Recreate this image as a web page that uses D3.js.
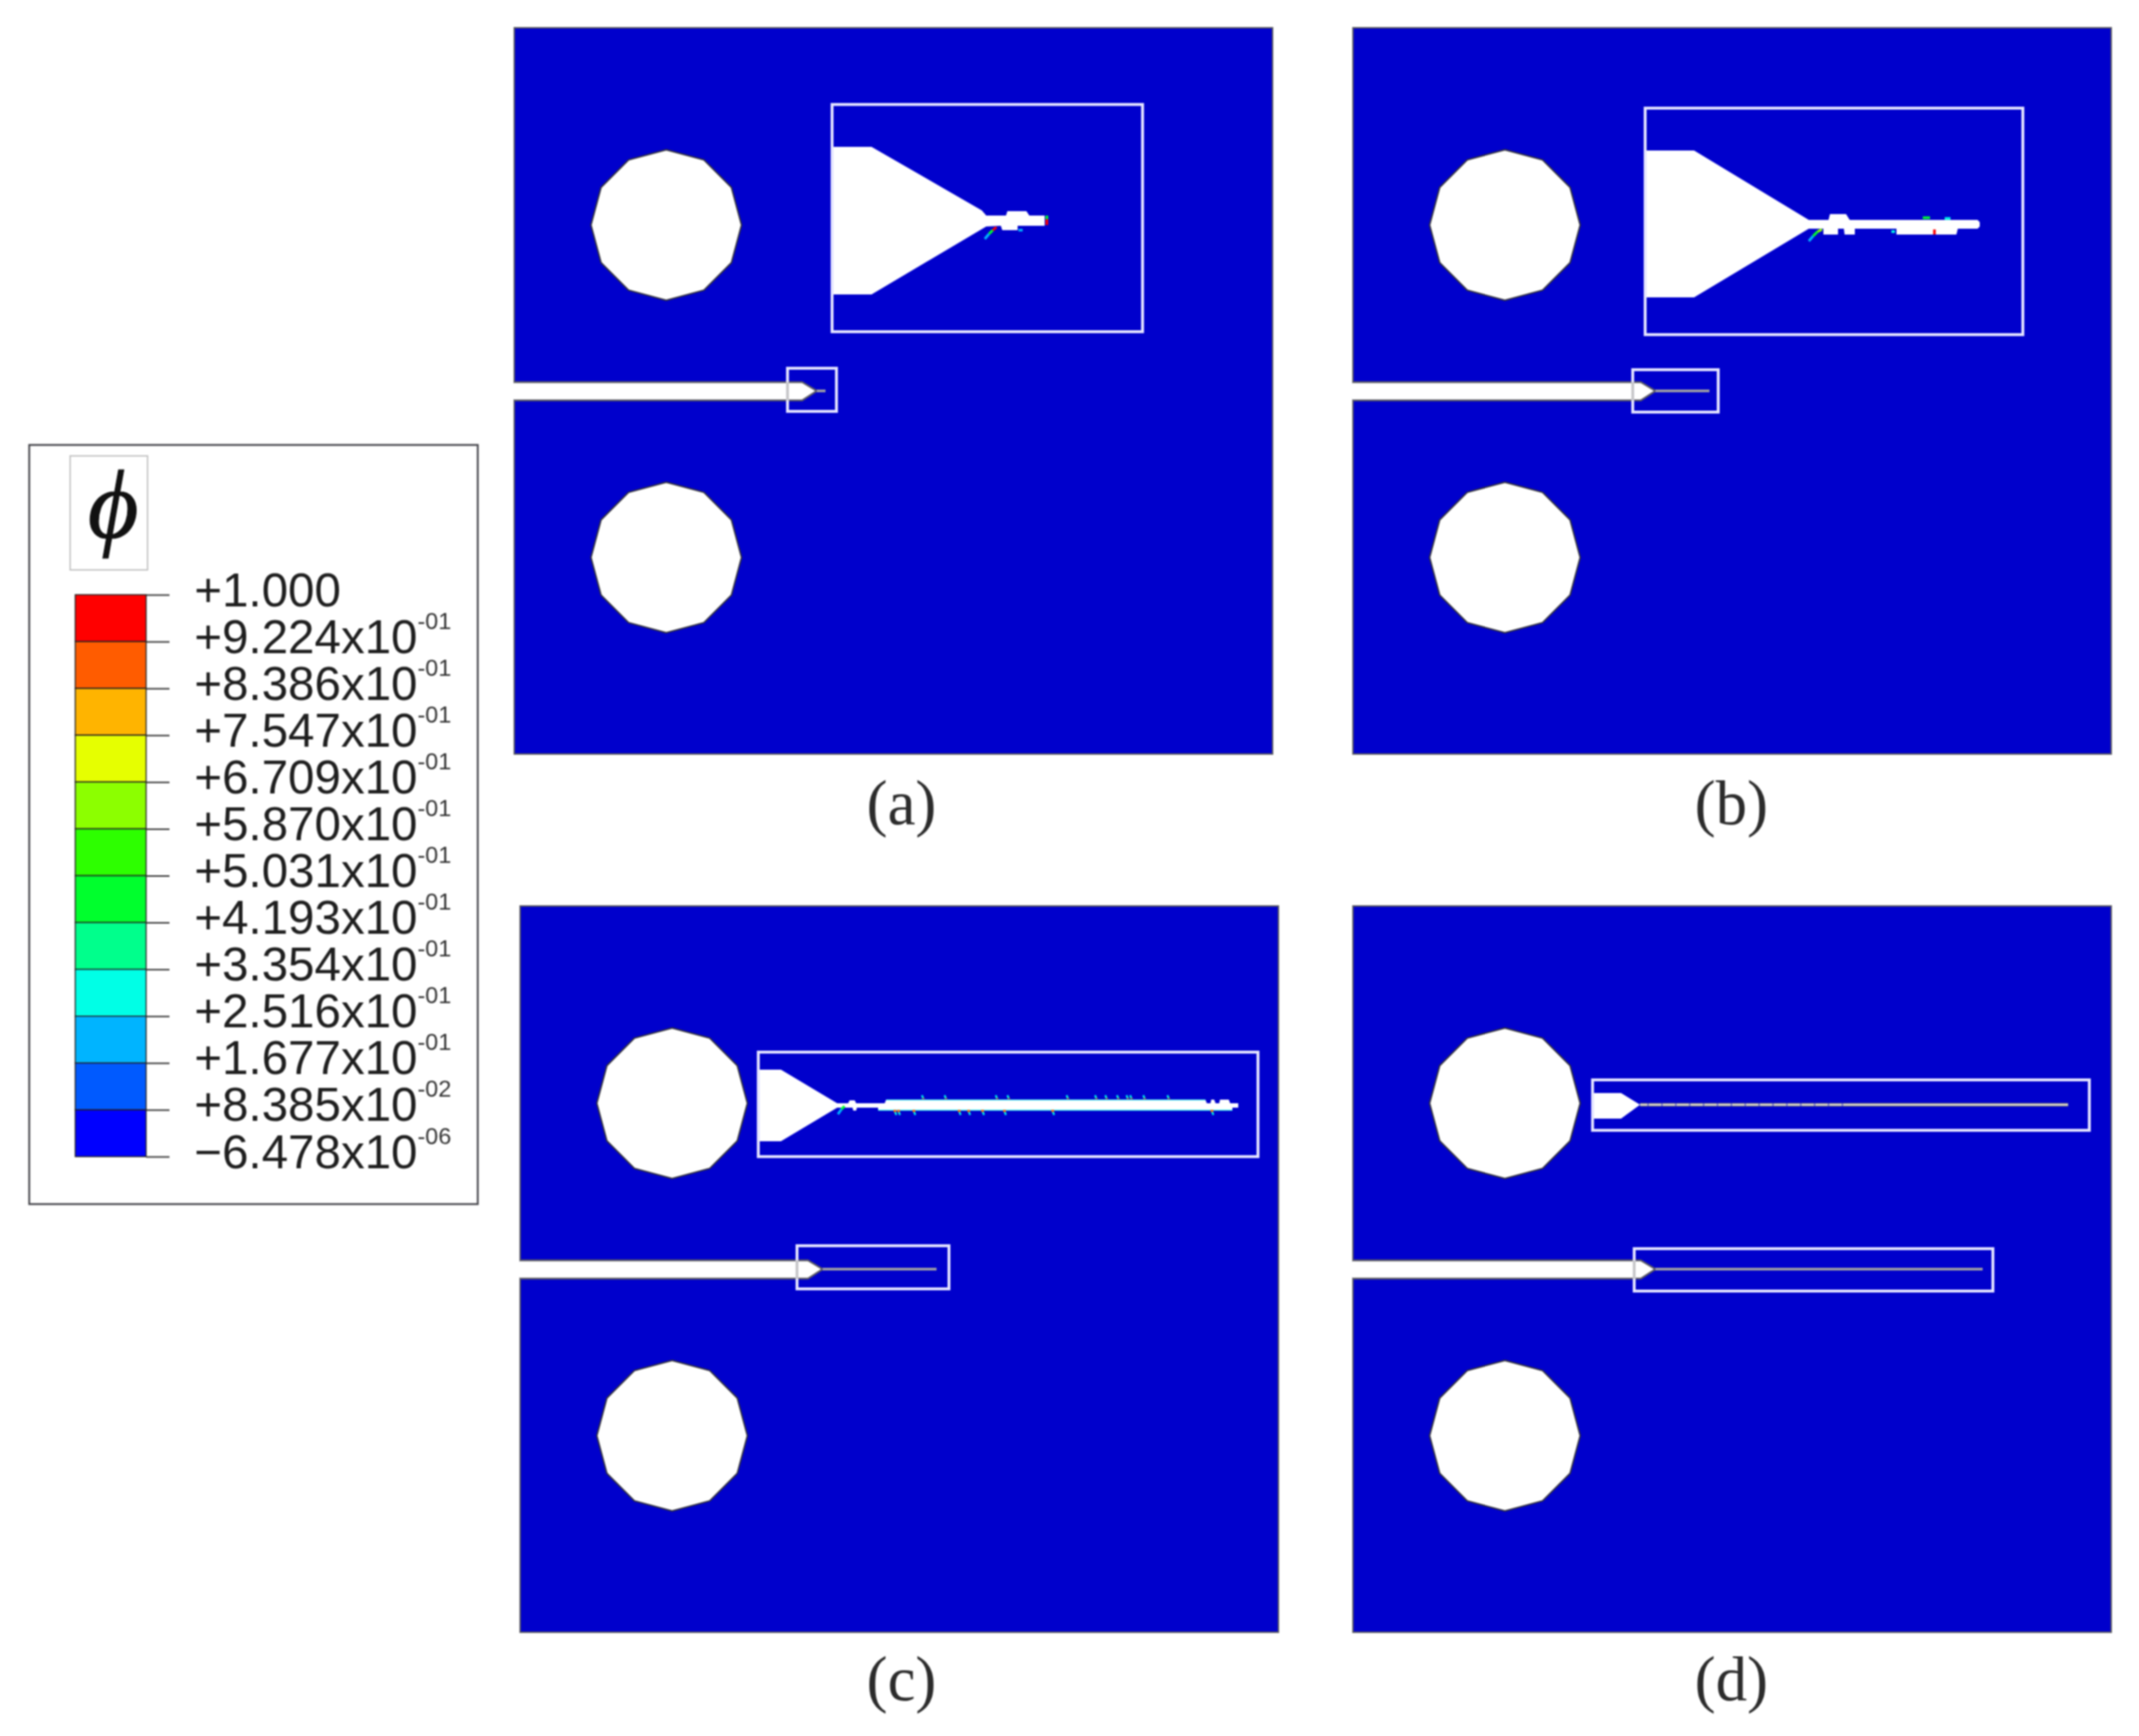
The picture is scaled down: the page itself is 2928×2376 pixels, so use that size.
<!DOCTYPE html>
<html>
<head>
<meta charset="utf-8">
<style>
	html, body { margin: 0; padding: 0; background: #fff; }
	svg { display: block; }
</style>
<script src="https://cdn.jsdelivr.net/npm/d3@7"></script>
</head>
<body>
<div id="chart"></div>
<script>

// legend contour levels, top to bottom
var levelValues = [1, 0.9224, 0.8386, 0.7547, 0.6709, 0.5870, 0.5031, 0.4193, 0.3354, 0.2516, 0.1677, 0.08385, -0.000006478];
var levelMantissa = ['+1.000', '+9.224', '+8.386', '+7.547', '+6.709', '+5.870', '+5.031', '+4.193', '+3.354', '+2.516', '+1.677', '+8.385', '\u22126.478'];
var levelExponent = ['', '-01', '-01', '-01', '-01', '-01', '-01', '-01', '-01', '-01', '-01', '-02', '-06'];
var levelColors = ['#ff0000', '#ff5c00', '#ffb400', '#e6ff00', '#8cff00', '#2dff00', '#00ff2d', '#00ff8c', '#00ffe6', '#00b4ff', '#005aff', '#0000ff'];

// panels, geometry below is in plate units
var panelNames = ['(a)', '(b)', '(c)', '(d)'];
var plateSize = [1038, 994];
var holeCentres = [[208, 270], [208, 725]];
var holeRadius = 103;
var notchOutline = [[0, 485], [394, 485], [414, 497], [394, 510], [0, 510]];

// crack tip end inside the notch zoom box
var crackEnds = [426, 488, 570, 862];

// small boxes at the notch tip: x0, y0, x1, y1
var tipBoxes = [[374, 466, 441, 525], [383, 468, 500, 526], [379, 465, 587, 524], [385, 469, 876, 527]];

// enlarged crack boxes: x0, y0, x1, y1
var zoomBoxes = [[435, 105, 860, 416], [400, 110, 917, 420], [326, 200, 1010, 343], [328, 238, 1008, 307]];

// enlarged crack shapes
var zoomCrackA = [[437, 163], [489, 163], [640, 250], [646, 257], [673, 257], [675, 251], [701, 251], [705, 257], [726, 257], [726, 271], [689, 271], [689, 277], [668, 277], [666, 271], [646, 272], [489, 365], [437, 365]];
var zoomCrackB = [[402, 168], [467, 168], [624, 263], [651, 263], [653, 255], [675, 255], [680, 263], [855, 263], [858, 266], [858, 272], [855, 275], [828, 275], [826, 283], [744, 283], [744, 275], [687, 275], [687, 283], [673, 283], [672, 275], [664, 275], [664, 283], [644, 283], [644, 275], [624, 275], [467, 369], [402, 369]];
var zoomCrackC = [[328, 224], [357, 224], [434, 270], [449, 270], [451, 266], [458, 266], [460, 270], [490, 270], [499, 270], [501, 265], [938, 265], [940, 270], [945, 270], [946, 265], [950, 265], [952, 270], [957, 270], [958, 265], [970, 265], [972, 270], [983, 270], [983, 276], [975, 276], [975, 280], [490, 280], [490, 276], [461, 276], [460, 280], [456, 280], [455, 276], [434, 276], [357, 322], [328, 322]];
var zoomCrackD = [[330, 256], [367, 256], [393, 272], [367, 291], [330, 291]];

// long thin crack in (d)
var zoomLineD = [393, 979];
var zoomLineDashedEnd = 671;

// coloured residue along the crack faces: x0, y0, x1, y1, phi
var residueA = [[644, 289, 650, 282, 0.2], [650, 282, 655, 277, 0.45], [655, 277, 660, 273, 0.95], [729, 257, 729, 262, 0.45], [729, 262, 729, 270, 0.95], [690, 277, 696, 277, 0.18]];
var residueB = [[624, 292, 630, 285, 0.2], [630, 285, 636, 279, 0.45], [636, 279, 642, 276, 0.6], [780, 260, 790, 260, 0.45], [810, 261, 818, 261, 0.28], [796, 276, 796, 283, 0.95], [737, 279, 742, 279, 0.3]];
var residueC = [[435, 285, 440, 278, 0.2], [440, 278, 444, 274, 0.45]];

// crack face spots in (c)
var spotsUpperC = [552, 583, 653, 669, 750, 789, 803, 819, 832, 837, 855, 888];
var spotsLowerC = [513, 518, 539, 601, 614, 633, 663, 729, 947];

var panelOrigins = [[704, 38], [1852, 38], [712, 1240], [1852, 1240]];
var captionCentres = [530, 518, 522, 518];
var captionBaselines = [1090, 1090, 1087, 1087];

var plateBlue = '#0000cc';
var boxStroke = '#e4e4ff';
var edgeStroke = '#5a5a62';

var width = 2928, height = 2376;

var svg = d3.select('#chart').append('svg')
	.attr('width', width)
	.attr('height', height);

svg.append('defs').append('filter')
	.attr('id', 'soft')
	.attr('filterUnits', 'userSpaceOnUse')
	.attr('x', 0).attr('y', 0)
	.attr('width', width).attr('height', height)
	.attr('color-interpolation-filters', 'sRGB')
	.append('feGaussianBlur')
	.attr('stdDeviation', 1.2);

var root = svg.append('g').attr('filter', 'url(#soft)');

root.append('rect')
	.attr('width', width)
	.attr('height', height)
	.attr('fill', '#fff');

// phi to colour, same bands as the legend
var phiColor = d3.scaleThreshold()
	.domain(levelValues.slice(1).reverse().slice(1))
	.range(levelColors.slice().reverse());

function drawPanel(i) {

	var origin = panelOrigins[i];

	var x = d3.scaleLinear().domain([0, plateSize[0]]).range([origin[0], origin[0] + plateSize[0]]);
	var y = d3.scaleLinear().domain([0, plateSize[1]]).range([origin[1], origin[1] + plateSize[1]]);

	var line = d3.line()
		.x(function(d) { return x(d[0]); })
		.y(function(d) { return y(d[1]); });

	var g = root.append('g').attr('class', 'panel');

	g.append('rect')
		.attr('x', x(0))
		.attr('y', y(0))
		.attr('width', x(plateSize[0]) - x(0))
		.attr('height', y(plateSize[1]) - y(0))
		.attr('fill', plateBlue)
		.attr('stroke', edgeStroke)
		.attr('stroke-width', 2);

	// holes are meshed as 12 sided polygons
	g.selectAll('path.hole')
		.data(holeCentres)
		.enter().append('path')
		.attr('class', 'hole')
		.attr('d', function(c) {
			return line(d3.range(12).map(function(k) {
				var a = k * Math.PI / 6;
				return [c[0] + holeRadius * Math.sin(a), c[1] - holeRadius * Math.cos(a)];
			})) + 'Z';
		})
		.attr('fill', '#fff')
		.attr('stroke', '#34343c')
		.attr('stroke-width', 2);

	// open path, so no stroke down the plate edge
	g.append('path')
		.attr('d', line(notchOutline))
		.attr('fill', '#fff')
		.attr('stroke', edgeStroke)
		.attr('stroke-width', 2.5);

	// plate edge is gone where the notch opens
	g.append('path')
		.attr('d', line([[0, notchOutline[0][1] + 1.5], [0, notchOutline[4][1] - 1.5]]))
		.attr('stroke', '#fff')
		.attr('stroke-width', 3);

	g.append('path')
		.attr('d', line([[notchOutline[2][0], notchOutline[2][1]], [crackEnds[i], notchOutline[2][1]]]))
		.attr('stroke', '#a8a8a0')
		.attr('stroke-width', 3.5)
		.attr('fill', 'none');

	var tb = tipBoxes[i];
	drawBox(g, x, y, tb, 4);

	// box edge shows grey where it crosses the white notch
	g.append('path')
		.attr('d', line([[tb[0], notchOutline[0][1]], [tb[0], notchOutline[4][1]]]))
		.attr('stroke', '#c4c4c4')
		.attr('stroke-width', 3.5);

	var zb = zoomBoxes[i];
	var crack = [zoomCrackA, zoomCrackB, zoomCrackC, zoomCrackD][i];
	g.append('path')
		.attr('d', line(crack))
		.attr('fill', '#fff')
		.attr('stroke', 'none');

	if (i === 3) {
		g.append('path')
			.attr('d', line([[zoomLineD[0], 272], [zoomLineD[1], 272]]))
			.attr('stroke', '#8c8c78')
			.attr('stroke-width', 4.5)
			.attr('fill', 'none');
		g.append('path')
			.attr('d', line([[zoomLineD[0], 272], [zoomLineD[1], 272]]))
			.attr('stroke', '#e8e4dc')
			.attr('stroke-width', 2)
			.attr('fill', 'none');
		g.append('path')
			.attr('d', line([[zoomLineD[0] + 10, 272], [zoomLineDashedEnd, 272]]))
			.attr('stroke', plateBlue)
			.attr('stroke-opacity', 0.45)
			.attr('stroke-width', 5)
			.attr('stroke-dasharray', '2 17')
			.attr('fill', 'none');
	}

	var residue = [residueA, residueB, residueC, []][i];
	g.selectAll('path.residue')
		.data(residue)
		.enter().append('path')
		.attr('class', 'residue')
		.attr('d', function(d) { return line([[d[0], d[1]], [d[2], d[3]]]); })
		.attr('stroke', function(d) { return phiColor(d[4]); })
		.attr('stroke-width', 3.5)
		.attr('fill', 'none');

	if (i === 2) {
		// thin green rim along the crack faces
		g.append('path')
			.attr('d', line([[501, 265.5], [938, 265.5]]))
			.attr('stroke', phiColor(0.33))
			.attr('stroke-opacity', 0.6)
			.attr('stroke-width', 1.5);
		g.append('path')
			.attr('d', line([[490, 279.5], [975, 279.5]]))
			.attr('stroke', phiColor(0.33))
			.attr('stroke-opacity', 0.7)
			.attr('stroke-width', 1.5);
		drawSpots(g, line, spotsUpperC, 265, -1);
		drawSpots(g, line, spotsLowerC, 280, 1);
	}

	drawBox(g, x, y, zb, 4);

	g.append('text')
		.attr('x', x(captionCentres[i]))
		.attr('y', y(captionBaselines[i]))
		.attr('text-anchor', 'middle')
		.attr('font-family', '"Liberation Serif", serif')
		.attr('font-size', 86)
		.attr('fill', '#2b2b2b')
		.text(panelNames[i]);
}

function drawBox(g, x, y, b, sw) {
	g.append('rect')
		.attr('x', x(b[0]))
		.attr('y', y(b[1]))
		.attr('width', x(b[2]) - x(b[0]))
		.attr('height', y(b[3]) - y(b[1]))
		.attr('fill', 'none')
		.attr('stroke', boxStroke)
		.attr('stroke-width', sw);
}

function drawSpots(g, line, xs, yBase, dir) {
	xs.forEach(function(sx) {
		g.append('path')
			.attr('d', line([[sx, yBase + dir * 1], [sx + dir * 2, yBase + dir * 6]]))
			.attr('stroke', phiColor(0.3))
			.attr('stroke-width', 2.5)
			.attr('fill', 'none');
		g.append('path')
			.attr('d', line([[sx, yBase - 1], [sx, yBase + dir * 2]]))
			.attr('stroke', phiColor(0.9))
			.attr('stroke-width', 3.5)
			.attr('fill', 'none');
	});
}

function drawLegend() {

	var g = root.append('g').attr('class', 'legend');

	g.append('rect')
		.attr('x', 40).attr('y', 609)
		.attr('width', 614).attr('height', 1039)
		.attr('fill', '#fff')
		.attr('stroke', '#44444a')
		.attr('stroke-width', 2.5);

	g.append('rect')
		.attr('x', 96).attr('y', 624)
		.attr('width', 106).attr('height', 156)
		.attr('fill', '#fff')
		.attr('stroke', '#c4c4c4')
		.attr('stroke-width', 2);

	g.append('text')
		.attr('x', 155)
		.attr('y', 736)
		.attr('text-anchor', 'middle')
		.attr('font-family', '"Liberation Serif", serif')
		.attr('font-style', 'italic')
		.attr('font-size', 134)
		.attr('fill', '#111')
		.attr('stroke', '#111')
		.attr('stroke-width', 1.2)
		.text('\u03d5');

	var levelY = d3.scalePoint()
		.domain(levelMantissa)
		.range([814, 1583]);

	var barX = 103, barW = 97;

	g.selectAll('rect.band')
		.data(levelColors)
		.enter().append('rect')
		.attr('class', 'band')
		.attr('x', barX)
		.attr('y', function(d, i) { return levelY(levelMantissa[i]); })
		.attr('width', barW)
		.attr('height', function(d, i) { return levelY(levelMantissa[i + 1]) - levelY(levelMantissa[i]); })
		.attr('fill', function(d) { return d; })
		.attr('stroke', '#222')
		.attr('stroke-width', 1.5);

	var axis = d3.axisRight(levelY)
		.tickSize(32)
		.tickPadding(34);

	var ag = g.append('g')
		.attr('transform', 'translate(' + (barX + barW) + ',0)')
		.call(axis);

	ag.select('.domain').remove();
	ag.selectAll('.tick line').attr('stroke', '#333').attr('stroke-width', 2);

	ag.selectAll('.tick text')
		.attr('dy', 15)
		.attr('font-family', '"Liberation Sans", Arial, sans-serif')
		.attr('font-size', 65)
		.attr('fill', '#1e1e1e')
		.each(function(d, i) {
			if (!levelExponent[i]) return;
			var t = d3.select(this);
			t.append('tspan').text('x10');
			t.append('tspan')
				.attr('dy', -33)
				.attr('font-size', 32)
				.attr('fill', '#333')
				.text(levelExponent[i]);
		});
}

panelNames.forEach(function(d, i) { drawPanel(i); });
drawLegend();

</script>
</body>
</html>
